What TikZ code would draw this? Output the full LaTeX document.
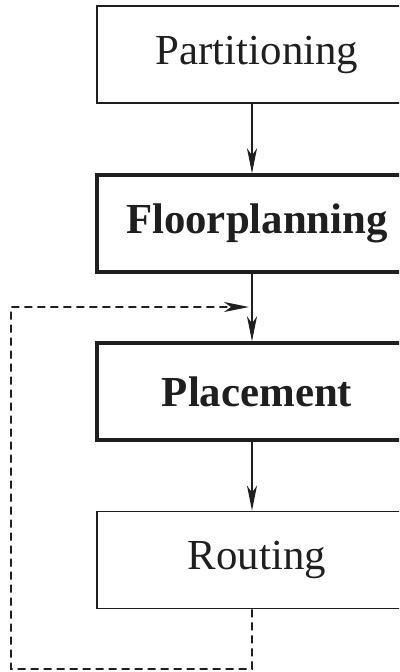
\documentclass[tikz,border=0pt]{standalone}
\usepackage{fontspec}
\setmainfont{Liberation Serif}
\usetikzlibrary{arrows.meta}
\begin{document}
\begin{tikzpicture}[x=1bp,y=-1bp,
  stage/.style={draw=black!88, line width=1.8bp, minimum width=320bp, minimum height=97bp,
    inner sep=0pt, font=\fontsize{43}{50}\selectfont, text=black!88},
  keystage/.style={stage, line width=3.4bp, font=\fontsize{43}{50}\selectfont\bfseries},
  flow/.style={draw=black!88, line width=1.9bp, -{Stealth[length=25bp,width=10bp,inset=7bp]}},
  loop/.style={flow, dashed, dash pattern=on 8bp off 5bp}]
  \clip (0,0) rectangle (399,672);
  \node[stage]    (part)  at (257,54.5)  {Partitioning};
  \node[keystage] (floor) at (257,223.5) {Floorplanning};
  \node[keystage] (place) at (257,391.5) {Placement};
  \node[stage]    (route) at (257,560)   {Routing};
  \coordinate (merge) at (249,307);
  \draw[flow] ([xshift=-5bp]part.south) -- ([xshift=-5bp]floor.north);
  \draw[flow] ([xshift=-5bp]floor.south) -- ([xshift=-5bp]place.north);
  \draw[flow] ([xshift=-5bp]place.south) -- ([xshift=-5bp]route.north);
  \draw[loop] ([xshift=-5bp]route.south) -- (252,669) -- (11,669) -- (11,307) -- (merge);
\end{tikzpicture}
\end{document}
